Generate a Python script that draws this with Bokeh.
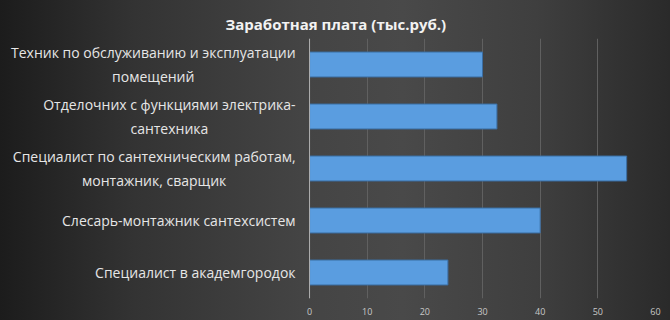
from bokeh.plotting import figure
from bokeh.models import FactorRange, Range1d, FixedTicker, Span
from bokeh.embed import file_html
from bokeh.resources import INLINE

title_text = "Заработная плата (тыс.руб.)"
categories = [
    "Техник по обслуживанию и эксплуатации\nпомещений",
    "Отделочних с функциями электрика-\nсантехника",
    "Специалист по сантехническим работам,\nмонтажник, сварщик",
    "Слесарь-монтажник сантехсистем",
    "Специалист в академгородок",
]
values = [30, 32.5, 55, 40, 24]
x_ticks = [0, 10, 20, 30, 40, 50, 60]

p = figure(
    width=670, height=320,
    y_range=FactorRange(factors=list(reversed(categories))),
    x_range=Range1d(-53.6, 60),
    output_backend="svg", toolbar_location=None,
    min_border_left=0, min_border_right=15,
    min_border_bottom=22, min_border_top=38,
)
p.styles = {"background": "linear-gradient(to right, #1c1c1c 0%, #333333 20%, #444444 45%, #494949 60%, #3f3f3f 80%, #2a2a2a 100%)"}
p.border_fill_alpha = 0
p.background_fill_alpha = 0
p.outline_line_color = None

p.title.text = title_text
p.title.align = "left"
p.title.offset = 225
p.title.text_color = "#f2f2f2"
p.title.text_font = "Open Sans"
p.title.text_font_style = "bold"
p.title.text_font_size = "15px"

p.xgrid.grid_line_color = "#606060"
p.xgrid.ticker = FixedTicker(ticks=x_ticks)
p.ygrid.grid_line_color = None
p.add_layout(Span(location=0, dimension="height", line_color="#b0b0b0", line_width=1))

p.hbar(y=categories, right=values, height=0.48, left=0,
       fill_color="#5a9de0", line_color="#3b6ea3", line_width=1)

p.text(x=0, y=categories, text=categories, x_offset=-14,
       anchor="center_right", text_align="center", text_baseline="middle",
       text_color="#e6e6e6", text_font={"value": "Open Sans"}, text_font_size="14px",
       text_line_height=1.25)

p.xaxis.ticker = FixedTicker(ticks=x_ticks)
p.xaxis.axis_line_color = None
p.xaxis.major_tick_line_color = None
p.xaxis.minor_tick_line_color = None
p.xaxis.major_label_text_color = "#c8c8c8"
p.xaxis.major_label_text_font = "Open Sans"
p.xaxis.major_label_text_font_size = "9px"
p.xaxis.major_label_standoff = 3

p.yaxis.visible = False

open("out.html", "w").write(file_html(p, INLINE))
